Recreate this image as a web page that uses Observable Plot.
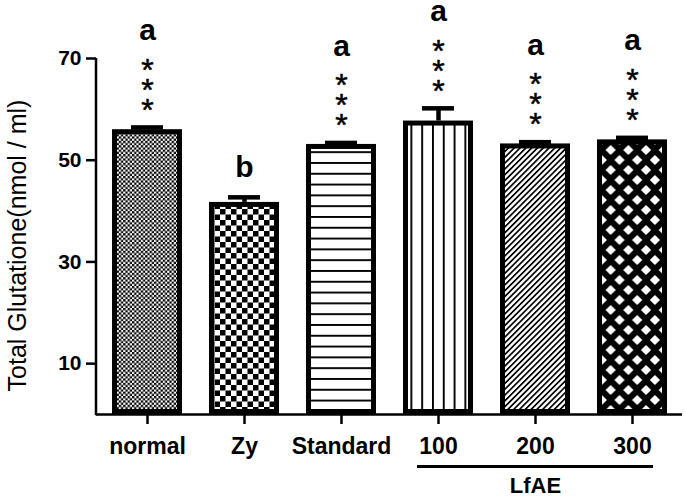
<!DOCTYPE html>
<html>
<head>
<meta charset="utf-8">
<script src="https://cdn.jsdelivr.net/npm/d3@7"></script>
<script src="https://cdn.jsdelivr.net/npm/@observablehq/plot@0.6"></script>
<style>
  html, body { margin: 0; padding: 0; background: #fff; }
  #chart svg { display: block; }
</style>
</head>
<body>
<div id="chart"></div>
<script>
// ---- data ----
const groups  = ["normal", "Zy", "Standard", "100", "200", "300"];
const means   = [56.0, 41.7, 53.1, 57.7, 53.2, 54.0];
const sems    = [0.45, 1.0, 0.3, 2.5, 0.35, 0.4];
const letters = ["a", "b", "a", "a", "a", "a"];
const stars   = ["***", "", "***", "***", "***", "***"];
const yTicks  = [10, 30, 50, 70];
const yTitle  = "Total Glutatione(nmol / ml)";
const bracketLabel = "LfAE";
const bracketFrom  = "100";
const bracketTo    = "300";
const bracketMid   = "200";

// ---- style ----
const patternIds = ["pFineCheck", "pCoarseCheck", "pHLines", "pVLines", "pDiag", "pDiamond"];
const FONT = "Liberation Sans, Arial, Helvetica, sans-serif";

const rows = groups.map((g, i) => ({
  group: g, mean: means[i], sem: sems[i], top: means[i] + sems[i],
  letter: letters[i], stars: stars[i], fill: `url(#${patternIds[i]})`
}));

function decor(index, scales, values, dims) {
  const g = d3.create("svg:g");
  const defs = g.append("defs");
  // fine checkerboard
  let p = defs.append("pattern").attr("id", "pFineCheck").attr("patternUnits", "userSpaceOnUse")
    .attr("width", 4.4).attr("height", 4.4);
  p.append("rect").attr("width", 4.4).attr("height", 4.4).attr("fill", "#fff");
  p.append("rect").attr("width", 2.3).attr("height", 2.3).attr("fill", "#000");
  p.append("rect").attr("x", 2.2).attr("y", 2.2).attr("width", 2.3).attr("height", 2.3).attr("fill", "#000");
  // coarse checkerboard
  p = defs.append("pattern").attr("id", "pCoarseCheck").attr("patternUnits", "userSpaceOnUse")
    .attr("width", 11).attr("height", 11);
  p.append("rect").attr("width", 11).attr("height", 11).attr("fill", "#fff");
  p.append("rect").attr("width", 5.5).attr("height", 5.5).attr("fill", "#000");
  p.append("rect").attr("x", 5.5).attr("y", 5.5).attr("width", 5.5).attr("height", 5.5).attr("fill", "#000");
  // horizontal lines
  p = defs.append("pattern").attr("id", "pHLines").attr("patternUnits", "userSpaceOnUse")
    .attr("width", 10).attr("height", 10.8);
  p.append("rect").attr("width", 10).attr("height", 10.8).attr("fill", "#fff");
  p.append("rect").attr("y", 0).attr("width", 10).attr("height", 1.9).attr("fill", "#000");
  // vertical lines
  p = defs.append("pattern").attr("id", "pVLines").attr("patternUnits", "userSpaceOnUse")
    .attr("width", 10.8).attr("height", 10);
  p.append("rect").attr("width", 10.8).attr("height", 10).attr("fill", "#fff");
  p.append("rect").attr("x", 0).attr("width", 1.9).attr("height", 10).attr("fill", "#000");
  // diagonal lines "/"
  p = defs.append("pattern").attr("id", "pDiag").attr("patternUnits", "userSpaceOnUse")
    .attr("width", 4.1).attr("height", 10).attr("patternTransform", "rotate(45)");
  p.append("rect").attr("width", 4.1).attr("height", 10).attr("fill", "#fff");
  p.append("rect").attr("width", 1.7).attr("height", 10).attr("fill", "#000");
  // black with white diamonds
  const W = 17.7, H = 20, hw = 5.1, hh = 5.1;
  p = defs.append("pattern").attr("id", "pDiamond").attr("patternUnits", "userSpaceOnUse")
    .attr("width", W).attr("height", H);
  p.append("rect").attr("width", W).attr("height", H).attr("fill", "#000");
  const dia = (cx, cy) => `M${cx - hw},${cy}L${cx},${cy - hh}L${cx + hw},${cy}L${cx},${cy + hh}Z`;
  p.append("path").attr("fill", "#fff")
    .attr("d", dia(W / 2, H / 2) + dia(0, 0) + dia(W, 0) + dia(0, H) + dia(W, H));
  // y axis line
  g.append("line")
    .attr("x1", dims.marginLeft).attr("x2", dims.marginLeft)
    .attr("y1", scales.y(0) + 1.25).attr("y2", scales.y(70))
    .attr("stroke", "#000").attr("stroke-width", 2.5);
  return g.node();
}

const starOffsets = [0, 1, 2];

const chart = Plot.plot({
  width: 685,
  height: 499,
  marginLeft: 96,
  marginRight: 3,
  marginTop: 58,
  marginBottom: 85,
  style: { fontFamily: FONT, background: "#fff", color: "#000" },
  x: { domain: groups, paddingInner: 0.283, paddingOuter: 0.14, label: null },
  y: { domain: [0, 70], label: null },
  color: { type: "identity" },
  marks: [
    decor,
    Plot.ruleX(rows, { x: "group", y1: "mean", y2: "top", stroke: "#000", strokeWidth: 4.5 }),
    Plot.barY(rows, { x: "group", y: "mean", fill: "fill", stroke: "#000", strokeWidth: 5, inset: 2.5 }),
    Plot.tickY(rows, { x: "group", y: "top", stroke: "#000", strokeWidth: 4.5, insetLeft: 19, insetRight: 19 }),
    Plot.ruleY([0], { stroke: "#000", strokeWidth: 2.5 }),
    Plot.axisY({ ticks: yTicks, tickSize: 10, tickPadding: 5, strokeWidth: 2.5,
                 fontSize: 21, fontWeight: "bold", fontFamily: FONT, label: null }),
    Plot.axisX({ tickSize: 10, tickPadding: 13, strokeWidth: 2.5,
                 fontSize: 23, fontWeight: "bold", fontFamily: FONT, label: null }),
    // stars
    ...starOffsets.map(k => Plot.text(rows.filter(d => d.stars), {
      x: "group", y: "top", text: () => "*", fontSize: 32, fontFamily: FONT,
      stroke: "#000", strokeWidth: 0.5, dy: -17 - 20 * k, fill: "#000"
    })),
    // significance letters
    Plot.text(rows.filter(d => d.stars), { x: "group", y: "top", text: "letter",
      fontSize: 30, fontWeight: "bold", fontFamily: FONT, dy: -97, fill: "#000" }),
    Plot.text(rows.filter(d => !d.stars), { x: "group", y: "top", text: "letter",
      fontSize: 30, fontWeight: "bold", fontFamily: FONT, dy: -30, fill: "#000" }),
    // bracket under LfAE doses
    Plot.ruleY([0], { x1: () => bracketFrom, x2: () => bracketTo, dy: 52,
      insetLeft: 14, insetRight: 14, stroke: "#000", strokeWidth: 3 }),
    Plot.text([{ g: bracketMid, t: bracketLabel }], { x: "g", y: () => 0, text: "t",
      dy: 71, fontSize: 22, fontWeight: "bold", fontFamily: FONT, fill: "#000" }),
    // y title
    Plot.text([yTitle], { text: d => d, frameAnchor: "left", textAnchor: "middle", rotate: -90,
      dx: -79, dy: 9, fontSize: 25, fontFamily: FONT, fill: "#000" })
  ]
});

document.getElementById("chart").appendChild(chart);
</script>
</body>
</html>
